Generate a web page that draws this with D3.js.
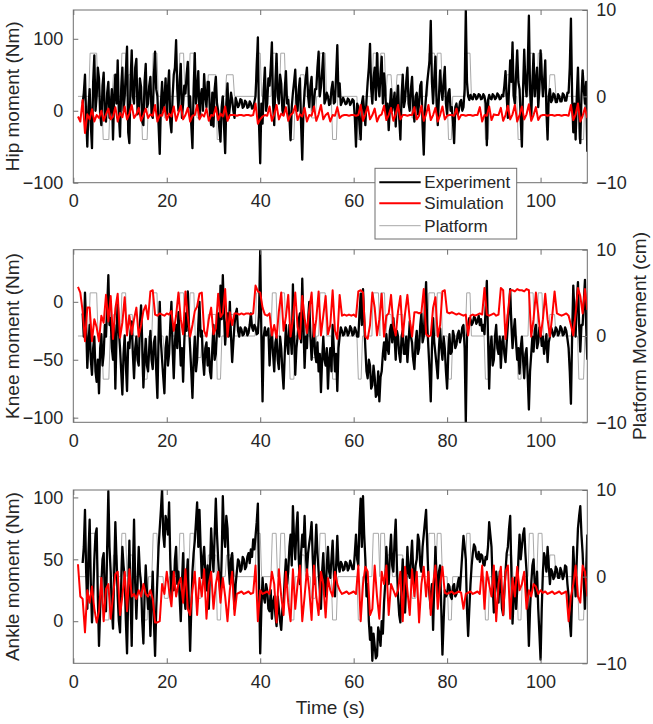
<!DOCTYPE html>
<html><head><meta charset="utf-8">
<script src="https://cdn.jsdelivr.net/npm/d3@7"></script>
<style>body{margin:0;background:#fff;} svg{display:block;font-family:"Liberation Sans",Arial,Helvetica,sans-serif;}</style>
</head><body><svg id="chart" width="653" height="724"></svg>
<script>
// ---------- data ----------
const xTicks = [0, 20, 40, 60, 80, 100];
const rightTicks = [-10, 0, 10];
const hipTicks = [-100, 0, 100];
const kneeTicks = [-100, -50, 0];
const ankleTicks = [0, 50, 100];
const legendLabels = ["Experiment", "Simulation", "Platform"];
const expStart = 2, expStep = 0.25;   // experiment sampled every 0.25 s from t = 2 s
const simStart = 1, simStep = 0.5;    // simulation sampled every 0.5 s from t = 1 s

const hipExp = [
10,25,50,-10,-50,5,30,-20,-52,40,77,0,20,60,45,-5,-20,35,53,-10,
-15,25,40,-10,5,30,-40,20,50,10,70,-5,-36,30,60,0,20,55,89,-30,
-45,40,84,20,10,60,72,-5,0,45,33,-15,-20,40,65,5,10,35,47,-5,
-10,50,82,30,20,-20,-60,10,40,0,15,45,-5,30,56,-15,-30,20,50,60,
98,30,0,40,65,-10,10,35,24,50,68,5,20,-20,-52,30,80,10,28,55,
-10,20,30,0,51,20,5,40,40,-5,-20,25,-22,30,47,10,0,-25,-43,5,
20,-20,-59,10,38,-10,5,25,15,0,-10,18,12,5,8,16,15,4,6,14,
12,4,5,13,10,3,4,12,20,60,102,-20,-73,10,-18,30,60,0,10,45,
35,60,95,10,-20,40,79,20,10,50,38,0,-5,30,55,10,15,-10,-41,5,
25,40,57,10,0,30,45,-20,-68,0,28,45,60,20,5,35,47,0,10,30,
30,60,82,20,33,55,80,10,15,25,20,8,10,30,40,10,12,50,91,20,
38,8,12,18,14,9,10,17,15,8,11,16,14,-10,-50,10,5,-20,-40,10,
20,0,-20,15,40,60,93,30,10,45,60,15,80,40,20,50,75,10,52,30,
-10,10,-27,5,30,0,10,25,-22,15,35,-10,-40,20,50,5,15,40,60,10,
0,30,47,5,-15,20,25,-5,10,35,40,-20,-61,0,20,40,55,70,125,40,
10,45,75,10,-20,20,56,30,15,40,61,10,-5,25,30,0,5,-15,-45,5,
10,-5,0,12,15,0,5,30,139,40,20,15,22,17,16,23,22,16,18,23,
22,16,17,23,20,10,-48,15,22,17,16,23,21,16,18,24,22,16,17,22,
20,35,55,20,-10,30,70,40,95,20,10,50,84,40,30,-10,-50,30,85,40,
20,60,132,30,-10,40,79,20,40,60,5,30,84,50,20,40,70,0,-40,20,
30,12,15,24,22,12,12,23,20,13,13,24,22,14,14,25,25,60,128,20,
-30,10,-40,20,60,0,-45,20,56,30,10,40,-57];

const hipSim = [
-8,-15,15,-31,-5,-12,2,-15,-6,-10,
0,-14,-5,3,-12,-8,5,-15,-3,-9,
6,-12,-4,8,-10,-5,4,-14,-6,3,
-10,-5,-7,8,-15,-6,-7,5,-13,-4,
-8,6,-14,-3,7,-12,-6,4,-15,-7,
-6,8,-12,-5,-8,3,-14,-6,-7,5,
-13,-4,-8,6,-14,-6,-6,-6,-7,-6,
-6,-7,-6,-6,-7,-6,10,-18,-12,-8,
-6,-7,6,-14,-5,8,-12,-4,-7,5,
-14,-6,-3,7,-13,-5,-8,4,-15,-6,
-7,6,-14,-5,8,-12,-6,-3,-15,-6,
-7,5,-10,-7,-6,-6,-7,-6,-6,-7,
-6,8,-14,-5,6,-12,-6,3,-15,-7,
-5,7,-13,-6,4,-14,-5,8,-12,-6,
-6,-7,-6,-6,5,-12,-7,7,-14,-5,
8,-13,-6,4,-15,-6,6,-12,-7,-6,
-6,-7,3,-12,-6,-6,-7,-6,-6,-7,
-6,-6,5,-15,-6,-7,6,-13,-5,-6,
-6,4,-14,-6,7,-12,-5,8,-15,-6,
6,-12,-5,9,-14,-6,5,-13,-7,-6,
-6,-7,-6,-6,-7,-6,-6,-7,-6,-6,
-7,8,-13,-5,10,-15,-7,4,-10];

const kneeExp = [
-10,-30,8,-20,-57,-35,-20,-50,-63,-40,-30,-60,-69,-50,-79,-40,-28,-55,-45,-20,
-30,-5,23,-20,-14,-40,-50,-20,-75,-30,0,-25,-40,-60,-80,-45,-29,-55,-77,-35,
-40,-25,-17,-45,-66,-40,-30,-50,-55,-20,-3,-35,-74,-50,-32,-55,-60,-40,-25,-50,
-58,-35,-30,-60,-83,-30,0,-35,-50,-65,-79,-40,-30,-55,-45,-20,0,-40,-66,-35,
-20,-40,-9,-30,-55,-40,-69,-35,-10,-25,9,-20,-40,-60,-83,-50,-30,-60,-50,-20,
0,-30,-25,-50,-63,-40,-35,-55,-40,-60,-66,-40,-20,-50,-45,-25,-10,-30,14,-15,
23,-10,-37,-20,-10,-30,0,-30,-52,-35,-20,-10,-6,-25,-30,-22,-24,-29,-28,-22,
-23,-29,-27,-20,-10,-22,-25,-20,-22,-28,-27,-10,44,-30,-86,-30,-22,-29,-28,-23,
-55,-35,-25,-45,-60,-35,-30,-50,-58,-30,-40,-60,-75,-45,-20,-35,-45,-20,-29,-45,
15,-30,-63,-40,-30,-15,-10,-35,20,-20,-57,-30,-40,-15,0,-30,-50,-35,-20,-45,
-52,-35,-60,-45,-78,-50,-30,-50,-55,-40,-75,-50,-40,-60,-20,-40,-60,-45,-77,-40,
-30,-22,-25,-29,-28,-22,-24,-29,-27,-21,-23,-29,-28,-22,-25,-30,-30,-10,7,-20,
11,-15,-40,-60,-66,-50,-55,-75,-72,-55,-65,-82,-80,-60,-86,-65,-60,-45,-35,-50,
-28,-40,-45,-25,-20,-35,-14,-30,-50,-25,-30,-45,-52,-30,-25,-45,-45,-30,-52,-35,
-17,-30,-35,-50,-58,-35,-25,-45,-40,-20,-10,-35,-30,-5,17,-20,-40,-60,-86,-40,
-14,-35,-45,-55,-66,-40,-23,-40,-50,-30,-40,-60,-75,-45,-28,-45,-43,-25,-30,-40,
-37,-28,-25,-35,-30,-22,-20,-40,-105,-30,-20,-14,-15,-20,-18,-13,-14,-19,-17,-12,
-20,-15,-25,-20,-28,-5,18,-30,-75,-40,-30,-55,-50,-30,-20,-40,-45,-30,-57,-35,
-30,-45,-52,-35,-20,-5,11,-20,-40,-25,-15,-35,-50,-40,-62,-40,-30,-50,-66,-45,
-40,-65,-93,-60,-45,-30,-43,-25,-20,-40,-35,-22,-25,-38,-30,-45,-37,-28,-52,-35,
-30,-22,-25,-30,-28,-22,-24,-29,-27,-21,-23,-29,-28,-22,-25,-32,-40,-60,-88,-30,
14,-10,-30,0,17,-20,-43,-20,-20,0,19,-20,-50];

const kneeSim = [
13,8,-8,-34,-5,-5,-34,-15,-22,-34,
-12,-18,6,-17,5,-32,-6,7,-31,-18,
4,-29,-12,-28,-15,-5,-30,-20,-8,-3,
-15,9,10,-11,-12,-10,-11,-12,-10,-11,
-8,-25,-12,8,-15,-28,9,-12,-30,-20,
-8,-4,7,8,-25,-30,-15,-5,-28,-23,
7,-13,-10,11,-30,-9,-20,-10,-10,-11,
-10,-11,-10,-10,-11,-10,14,9,8,-5,
-11,-12,-10,-29,-20,-31,-8,8,-25,-13,
6,-30,-15,8,-22,-32,5,-14,-27,-7,
8,-30,-15,9,-29,-12,5,-28,-20,10,
-25,-32,6,-12,-11,-12,-11,-12,-11,-13,
9,10,8,-30,-32,-20,8,-5,-29,-15,
7,-30,-12,-10,6,-20,-29,-8,5,-30,
-10,6,-15,-30,-9,-9,-10,-9,11,-28,
-30,-29,-5,4,-30,-20,9,10,-9,-10,
-9,-10,-11,-10,-11,-12,-11,-29,-12,-11,
-12,-11,-10,-11,12,-11,-12,-11,-10,-12,
-11,12,10,-32,-10,10,10,9,11,10,
10,9,11,10,-30,-15,8,-10,-30,-15,
7,-15,-30,-12,9,-10,-11,-12,-11,-10,
-12,-20,-29,-10,12,5,-10,11,-7];

const ankleExp = [
47,60,90,40,10,55,82,30,-1,20,50,70,75,20,-20,10,30,50,55,20,
8,60,105,60,40,10,-6,40,80,50,20,0,-9,30,60,45,35,0,-26,20,
65,20,-20,40,82,30,2,30,60,40,30,0,-18,20,45,25,10,20,-12,15,
40,0,-28,10,35,60,75,90,107,70,60,85,80,70,96,50,20,40,25,50,
60,30,40,20,0,30,55,20,10,35,50,10,-24,10,40,55,65,80,96,60,
90,60,35,50,60,40,25,45,10,40,75,55,40,70,99,70,50,35,20,50,
101,70,60,85,75,45,30,50,55,30,10,30,40,50,48,40,42,52,50,42,
44,52,55,47,58,52,66,58,69,80,95,30,-26,10,35,20,15,30,25,10,
8,25,2,15,20,5,-4,20,10,0,-7,10,15,35,50,30,40,60,70,45,
93,65,50,75,88,50,30,55,70,60,85,55,40,55,63,70,80,50,30,55,
78,55,40,25,10,40,55,30,20,45,60,40,35,50,65,40,20,45,69,45,
40,48,46,41,42,48,47,41,43,49,46,42,42,55,70,50,45,80,99,60,
101,70,50,20,30,0,-15,-5,-32,-10,-20,-30,-28,-5,-10,-20,0,-10,15,30,
60,40,30,55,70,45,40,65,82,45,20,5,-1,30,50,20,7,30,60,40,
35,50,65,40,30,45,50,70,65,45,40,60,70,80,90,60,35,20,10,30,
-7,30,60,35,20,40,45,10,-27,0,25,20,22,30,28,20,18,28,30,20,
22,30,35,25,40,55,69,60,50,10,-12,10,30,45,55,62,60,52,50,56,
48,54,53,46,45,52,50,60,80,70,60,30,7,25,40,30,15,40,30,10,
5,25,40,55,60,75,85,40,-2,20,35,10,25,50,70,50,60,70,75,55,
40,10,-20,10,30,45,50,30,20,40,10,-10,-31,10,40,55,50,40,60,45,
30,42,40,34,36,44,42,35,35,43,40,34,37,45,44,30,20,0,-12,20,
60,40,20,50,75,85,93,70,55,30,10,40,70];

const ankleSim = [
46,20,18,-9,25,15,28,10,-1,8,
35,0,26,30,2,20,38,40,5,20,
40,8,42,20,22,18,25,20,30,22,
20,25,18,-1,-1,0,30,22,40,25,
12,40,20,30,35,15,42,10,5,25,
40,5,35,20,42,2,30,40,10,30,
40,15,35,20,0,25,40,5,22,23,
24,22,23,24,22,23,45,0,25,22,
23,24,22,40,30,-1,42,20,5,40,
15,0,42,10,30,45,0,20,42,25,
1,45,20,5,40,30,3,35,25,20,
40,30,25,22,23,24,22,23,24,22,
45,0,30,44,40,5,10,45,20,2,
40,30,45,5,30,25,20,25,40,0,
44,25,5,42,20,40,-1,30,44,20,
40,5,30,45,10,30,44,23,22,23,
24,22,23,24,23,10,22,23,24,22,
23,24,22,45,10,40,30,20,45,0,
30,44,5,40,45,2,35,20,44,25,
30,40,10,25,20,30,28,22,25,23,
24,22,23,24,22,23,24,22,23,24,
0,20,30,45,20,15,45,40,20];

// platform movement [time s, cm]
const platform = [
[1,0],[3.3,0],[3.6,5],[5.0,5],[5.3,0],[6.1,0],[6.4,-5],[7.6,-5],[7.9,0],[8.3,0],[8.6,2.5],[9.3,2.5],[9.6,0],
[10.1,0],[10.4,5],[11.2,5],[11.5,0],[11.8,2.5],[12.6,2.5],[12.9,0],[14.5,0],[14.8,-5],[15.8,-5],[16.1,0],
[16.8,0],[17.1,5],[17.9,5],[18.2,0],[19.2,0],[19.5,-2.5],[20.3,-2.5],[20.6,0],[22.5,0],[22.8,5],[23.6,5],[23.9,0],
[24.7,0],[25.0,5],[25.8,5],[26.1,0],[26.5,-2.5],[27.3,-2.5],[27.6,0],[28.6,0],[28.9,2.5],[30.5,2.5],[30.8,-5],
[31.5,-5],[31.8,0],[32.5,0],[32.8,2.5],[34.2,2.5],[34.5,0],[38.9,0],[39.2,5],[40.0,5],[40.3,0],[42.3,0],[42.6,5],
[43.4,5],[43.7,0],[44.1,0],[44.4,5],[45.2,5],[45.5,0],[46.1,0],[46.4,-5],[47.2,-5],[47.5,0],[48.3,0],[48.6,2.5],
[49.4,2.5],[49.7,0],[50.7,0],[51.0,-2.5],[51.8,-2.5],[52.1,0],[52.5,0],[52.8,5],[53.9,5],[54.2,0],[55.2,0],[55.5,-5],
[56.3,-5],[56.6,0],[60.7,0],[61.0,-5],[61.6,-5],[61.9,0],[63.9,0],[64.2,5],[65.3,5],[65.6,0],[65.8,5],[66.6,5],
[66.9,0],[67.2,2.5],[68.0,2.5],[68.3,0],[69.0,0],[69.3,2.5],[70.5,2.5],[70.8,0],[72.2,0],[72.5,-2.5],[73.3,-2.5],
[73.6,0],[75.8,0],[76.1,5],[77.3,5],[77.6,0],[77.9,5],[78.7,5],[79.0,0],[80.0,0],[80.3,-5],[80.9,-5],[81.2,0],
[83.9,0],[84.2,5],[84.9,5],[85.2,0],[87.9,0],[88.2,-5],[88.8,-5],[89.1,0],[92.5,0],[92.8,2.5],[93.8,2.5],[94.1,0],
[94.9,0],[95.2,-5],[95.8,-5],[96.1,0],[97.3,0],[97.6,5],[98.4,5],[98.7,0],[99.2,0],[99.5,5],[100.3,5],[100.6,0],
[101.7,0],[102.0,2.5],[103.0,2.5],[103.3,0],[107.9,0],[108.2,-5],[109.2,-5],[109.5,0],[110,0]];

// ---------- layout ----------
const svg = d3.select("#chart");
const left = 73.3, right = 587.3;
const x = d3.scaleLinear().domain([0, 110]).range([left, right]);
const panels = [
  {top: 10,    bottom: 182.7, domain: [-100, 140], ticks: hipTicks,   label: "Hip moment (Nm)",   exp: hipExp,   sim: hipSim},
  {top: 249.7, bottom: 422.3, domain: [-104, 45],  ticks: kneeTicks,  label: "Knee moment (Nm)",  exp: kneeExp,  sim: kneeSim},
  {top: 490,   bottom: 663.3, domain: [-34, 106],  ticks: ankleTicks, label: "Ankle moment (Nm)", exp: ankleExp, sim: ankleSim}
];
const axisColor = "#6e6e6e", textColor = "#262626";
const colExp = "#000000", colSim = "#ff0000", colPlat = "#a8a8a8";

function styleAxis(g) {
  g.selectAll("path.domain").remove();
  g.selectAll(".tick line").attr("stroke", axisColor);
  g.selectAll(".tick text").attr("fill", textColor).style("font-size", "18px");
}

panels.forEach((p, i) => {
  const y = d3.scaleLinear().domain(p.domain).range([p.bottom, p.top]);
  const yR = d3.scaleLinear().domain([-10, 10]).range([p.bottom, p.top]);
  const g = svg.append("g");
  const clipId = "clip" + i;
  svg.append("clipPath").attr("id", clipId).append("rect")
    .attr("x", left).attr("y", p.top).attr("width", right - left).attr("height", p.bottom - p.top);

  const plot = g.append("g").attr("clip-path", `url(#${clipId})`);
  plot.append("path").datum(platform)
    .attr("fill", "none").attr("stroke", colPlat).attr("stroke-width", 1)
    .attr("d", d3.line().x(d => x(d[0])).y(d => yR(d[1])));
  plot.append("path").datum(p.exp)
    .attr("fill", "none").attr("stroke", colExp).attr("stroke-width", 2.3).attr("stroke-linejoin", "round")
    .attr("d", d3.line().x((d, k) => x(expStart + k * expStep)).y(d => y(d)));
  plot.append("path").datum(p.sim)
    .attr("fill", "none").attr("stroke", colSim).attr("stroke-width", 2).attr("stroke-linejoin", "round")
    .attr("d", d3.line().x((d, k) => x(simStart + k * simStep)).y(d => y(d)));

  // box
  g.append("rect").attr("x", left).attr("y", p.top).attr("width", right - left).attr("height", p.bottom - p.top)
    .attr("fill", "none").attr("stroke", axisColor).attr("stroke-width", 1);

  // axes (ticks pointing inward); in the top panel the legend hides the 80 label
  const bottomTicks = i === 0 ? xTicks.filter(v => v !== 80) : xTicks;
  g.append("g").attr("transform", `translate(0,${p.bottom})`)
    .call(d3.axisBottom(x).tickValues(bottomTicks).tickSizeInner(-5).tickSizeOuter(0).tickPadding(12))
    .call(styleAxis);
  if (i === 0) {
    g.append("g").attr("transform", `translate(0,${p.bottom})`)
      .call(d3.axisBottom(x).tickValues([80]).tickSizeInner(-5).tickSizeOuter(0).tickFormat(""))
      .call(styleAxis);
  }
  g.append("g").attr("transform", `translate(0,${p.top})`)
    .call(d3.axisTop(x).tickValues(xTicks).tickSizeInner(-5).tickSizeOuter(0).tickFormat(""))
    .call(styleAxis);
  g.append("g").attr("transform", `translate(${left},0)`)
    .call(d3.axisLeft(y).tickValues(p.ticks).tickSizeInner(-5).tickSizeOuter(0).tickPadding(10))
    .call(styleAxis);
  g.append("g").attr("transform", `translate(${right},0)`)
    .call(d3.axisRight(yR).tickValues(rightTicks).tickSizeInner(-5).tickSizeOuter(0).tickPadding(9))
    .call(styleAxis);

  g.append("text")
    .attr("transform", `translate(18.5,${(p.top + p.bottom) / 2}) rotate(-90)`)
    .attr("text-anchor", "middle").attr("fill", textColor).style("font-size", "19px")
    .text(p.label);
});

svg.append("text")
  .attr("transform", `translate(646,${(panels[1].top + panels[1].bottom) / 2}) rotate(-90)`)
  .attr("text-anchor", "middle").attr("fill", textColor).style("font-size", "19px")
  .text("Platform Movement (cm)");

svg.append("text")
  .attr("x", (left + right) / 2).attr("y", 714)
  .attr("text-anchor", "middle").attr("fill", textColor).style("font-size", "19px")
  .text("Time (s)");

// legend
const leg = svg.append("g");
leg.append("rect").attr("x", 375).attr("y", 168.3).attr("width", 141.7).attr("height", 70.7)
  .attr("fill", "#fff").attr("stroke", axisColor).attr("stroke-width", 1);
const legRows = [182.3, 203.3, 225.7];
const legCols = [colExp, colSim, colPlat];
const legW = [2, 2, 1];
legendLabels.forEach((lab, k) => {
  leg.append("line").attr("x1", 379.3).attr("x2", 420.7).attr("y1", legRows[k]).attr("y2", legRows[k])
    .attr("stroke", legCols[k]).attr("stroke-width", legW[k]);
  leg.append("text").attr("x", 424.3).attr("y", legRows[k]).attr("dy", "0.35em")
    .attr("fill", textColor).style("font-size", "17px").text(lab);
});
</script>
</body></html>
